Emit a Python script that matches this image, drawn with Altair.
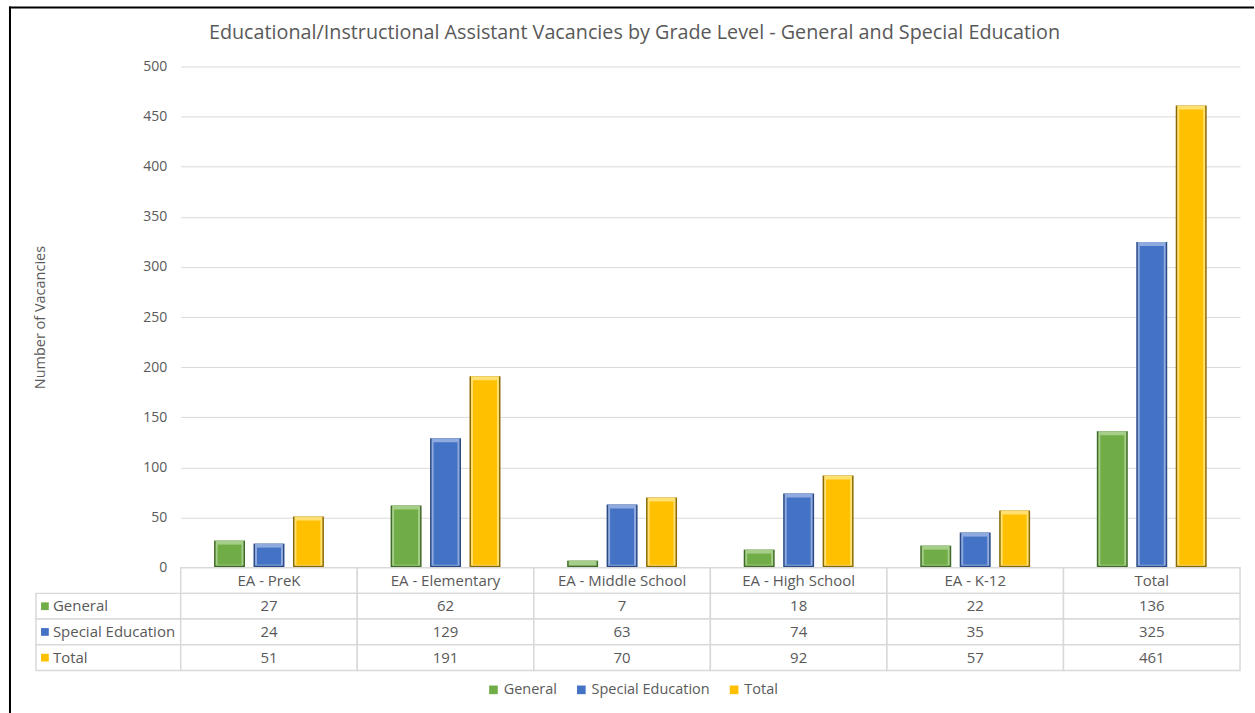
import altair as alt
import pandas as pd

categories = ["EA - PreK", "EA - Elementary", "EA - Middle School", "EA - High School", "EA - K-12", "Total"]
series = ["General", "Special Education", "Total"]
general = [27, 62, 7, 18, 22, 136]
special = [24, 129, 63, 74, 35, 325]
total = [51, 191, 70, 92, 57, 461]
y_ticks = list(range(0, 501, 50))

title_text = "Educational/Instructional Assistant Vacancies by Grade Level - General and Special Education"
y_title = "Number of Vacancies"

FACE = ["#70AD47", "#4472C4", "#FFC000"]
LIGHT = ["#A5CF88", "#8EAADF", "#FFE070"]
DARK = ["#3F6B27", "#2A4A86", "#8A6A00"]
FONT = "Open Sans"
GRAY = "#595959"
GRID = "#D9D9D9"

rows = []
for s, vals in zip(series, [general, special, total]):
    for c, v in zip(categories, vals):
        rows.append({"category": c, "series": s, "value": v})
df = pd.DataFrame(rows)

W_PLOT, H_PLOT = 1061, 502
W_LAB, H_TAB = 145, 103

xs = alt.Scale(domain=categories, paddingInner=0, paddingOuter=0)
xo = alt.Scale(domain=series, paddingInner=0.205, paddingOuter=0.84)
ys = alt.Scale(domain=[0, 500], nice=False)

base = alt.Chart(df).encode(
    x=alt.X("category:N", scale=xs, axis=None, sort=categories),
    xOffset=alt.XOffset("series:N", scale=xo, sort=series),
    y=alt.Y("value:Q", scale=ys, stack=None,
            axis=alt.Axis(values=y_ticks, grid=True, gridColor=GRID, gridWidth=1,
                          domain=False, ticks=False, labelPadding=14,
                          labelFont=FONT, labelFontSize=14, labelColor=GRAY,
                          title=y_title, titleFont=FONT, titleFontSize=14.5,
                          titleColor=GRAY, titleFontWeight="normal",
                          titleX=-140, titleY=H_PLOT / 2, titleAlign="center",
                          titleBaseline="middle")),
    y2=alt.datum(0),
)

dark = base.mark_bar(width=31).encode(
    color=alt.Color("series:N", scale=alt.Scale(domain=series, range=DARK), legend=None),
)
light = base.mark_bar(width=28, y2Offset=-2).encode(
    color=alt.Color("series:N", scale=alt.Scale(domain=series, range=LIGHT), legend=None),
)
face = base.mark_bar(width=24, yOffset=4, y2Offset=-3).encode(
    color=alt.Color("series:N", scale=alt.Scale(domain=series, range=FACE),
                    legend=alt.Legend(title=None, orient="none", direction="horizontal",
                                      legendX=306, legendY=617,
                                      symbolType="square", symbolSize=75,
                                      symbolStrokeWidth=0,
                                      labelFont=FONT, labelFontSize=14.5, labelColor=GRAY,
                                      labelOffset=3, columnPadding=17)),
)

bars = alt.layer(dark, light, face).resolve_scale(color="independent").properties(
    width=W_PLOT, height=H_PLOT,
    title=alt.TitleParams(title_text, font=FONT, fontSize=19.8, fontWeight="normal",
                          color=GRAY, anchor="middle", frame="group", dx=-76, offset=17),
)

# spacer with outer frame lines
spacer_df = pd.DataFrame({"a": [0]})
top_line = alt.Chart(spacer_df).mark_rule(color="black", strokeWidth=2).encode(
    x=alt.value(-27), x2=alt.value(1220), y=alt.value(-59))
left_line = alt.Chart(spacer_df).mark_rule(color="black", strokeWidth=2).encode(
    x=alt.value(-26), y=alt.value(-60), y2=alt.value(648))
spacer = alt.layer(top_line, left_line).properties(width=W_LAB, height=H_PLOT)

# data table
row_names = ["header"] + series
tab_rows = []
for c in categories:
    tab_rows.append({"category": c, "row": "header", "text": c})
for s, vals in zip(series, [general, special, total]):
    for c, v in zip(categories, vals):
        tab_rows.append({"category": c, "row": s, "text": str(v)})
tab_df = pd.DataFrame(tab_rows)

ty = alt.Scale(domain=row_names, paddingInner=0, paddingOuter=0)
tbase = alt.Chart(tab_df).encode(
    x=alt.X("category:N", scale=xs, axis=None, sort=categories),
    y=alt.Y("row:N", scale=ty, axis=None, sort=row_names),
)
cells = tbase.mark_rect(fill="white", stroke=GRID, strokeWidth=1.5)
texts = tbase.mark_text(font=FONT, fontSize=15, color=GRAY).encode(text="text:N")
table = alt.layer(cells, texts).properties(width=W_PLOT, height=H_TAB)

lab_df = pd.DataFrame({"row": series})
lbase = alt.Chart(lab_df).encode(y=alt.Y("row:N", scale=ty, axis=None, sort=row_names))
lcells = lbase.mark_rect(fill="white", stroke=GRID, strokeWidth=1.5).encode(
    x=alt.value(0), x2=alt.value("width"))
lsq = lbase.mark_square(size=60, opacity=1, filled=True).encode(
    x=alt.value(9),
    color=alt.Color("row:N", scale=alt.Scale(domain=series, range=FACE), legend=None))
ltext = lbase.mark_text(font=FONT, fontSize=15, color=GRAY, align="left").encode(
    x=alt.value(17), text="row:N")
labels = alt.layer(lcells, lsq, ltext).properties(width=W_LAB, height=H_TAB)

chart = alt.concat(spacer, bars, labels, table, columns=2, spacing=0,
                   bounds="flush").configure_view(
    stroke=None
).properties(
    padding={"left": 8, "top": 5, "right": 0, "bottom": 0},
    autosize=alt.AutoSizeParams(type="pad"),
    background="white",
)

chart.save("out.html", embed_options={"renderer": "svg", "actions": False})
